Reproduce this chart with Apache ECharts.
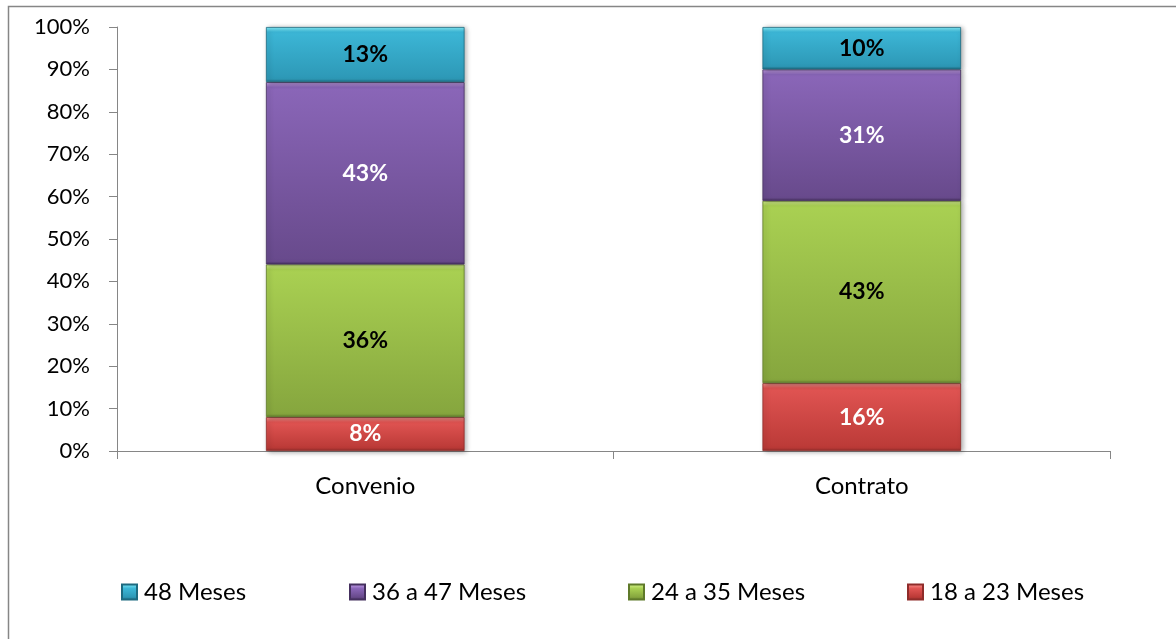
<!DOCTYPE html>
<html><head><meta charset="utf-8">
<script src="https://cdn.jsdelivr.net/npm/echarts@6/dist/echarts.min.js"></script>
<style>html,body{margin:0;padding:0;background:#fff}#c{width:1176px;height:639px}</style>
</head><body><div id="c"></div>
<script>
var categories = ['Convenio', 'Contrato'];
var seriesNames = ['18 a 23 Meses', '24 a 35 Meses', '36 a 47 Meses', '48 Meses'];
var v18a23 = [8, 16];
var v24a35 = [36, 43];
var v36a47 = [43, 31];
var v48 = [13, 10];
var yTicks = [0, 10, 20, 30, 40, 50, 60, 70, 80, 90, 100];

var font = 'Lato, "Open Sans", sans-serif';
var pal = [
  {hi:'#ff9a96', top:'#e05452', bot:'#bb3a37', edge:'#8f2c2a', label:'#ffffff'},
  {hi:'#dcf894', top:'#a9d052', bot:'#86a63e', edge:'#5f7a2a', label:'#000000'},
  {hi:'#cda8f2', top:'#8a66b8', bot:'#684a8c', edge:'#45305f', label:'#ffffff'},
  {hi:'#86f0fb', top:'#3cb6d6', bot:'#2d98b6', edge:'#1d6a80', label:'#000000'}
];
var pxPerPct = 4.24;
function grad(p, v){
  var f = Math.min(0.3, 5 / (v * pxPerPct));
  var g = Math.min(0.3, 3 / (v * pxPerPct));
  return {type:'linear', x:0, y:0, x2:0, y2:1, colorStops:[
    {offset:0, color:p.hi},{offset:f, color:p.top},{offset:1 - g, color:p.bot},{offset:1, color:p.edge}]};
}
var vals = [v18a23, v24a35, v36a47, v48];
var series = seriesNames.map(function(n, i){
  return {
    name:n, type:'bar', stack:'t', barWidth:'40%',
    data:vals[i].map(function(v){ return {value:v, itemStyle:{color:grad(pal[i], v)}}; }),
    itemStyle:{color:pal[i].top, borderColor:pal[i].edge, borderWidth:0.8,
      shadowColor:'rgba(0,0,0,0.35)', shadowBlur:5, shadowOffsetX:2, shadowOffsetY:1},
    label:{show:true, position:'inside', formatter:'{c}%', color:pal[i].label,
      fontFamily:font, fontWeight:'bold', fontSize:23}
  };
});
var legendX = [121, 349, 628, 907];
var legendOrder = [3, 2, 1, 0];
var legends = legendOrder.map(function(si, k){
  return {data:[{name:seriesNames[si], itemStyle:{color:grad(pal[si], 3.5)}}],
    left:legendX[k], top:580, padding:0, itemWidth:15, itemHeight:15,
    itemGap:0, icon:'rect', textStyle:{fontFamily:font, fontSize:24, color:'#000', padding:[0,0,0,2]},
    selectedMode:false};
});
var chart = echarts.init(document.getElementById('c'));
chart.setOption({
  animation:false,
  grid:{left:117, right:66, top:27, bottom:188},
  legend:legends,
  xAxis:{type:'category', data:categories,
    axisLine:{lineStyle:{color:'#868686', width:1}},
    axisTick:{show:true, length:8, lineStyle:{color:'#868686'}},
    axisLabel:{fontFamily:font, fontSize:24, color:'#000', margin:23}},
  yAxis:{type:'value', min:0, max:100, interval:10,
    axisLine:{show:true, lineStyle:{color:'#868686'}},
    axisTick:{show:true, length:8, lineStyle:{color:'#868686'}},
    splitLine:{show:false},
    axisLabel:{fontFamily:font, fontSize:22, color:'#000', margin:27,
      formatter:function(v){ return yTicks.indexOf(v) >= 0 ? v + '%' : ''; }}},
  graphic:[{type:'rect', shape:{x:8.5, y:6.5, width:1200, height:700},
    style:{fill:'none', stroke:'#868686', lineWidth:1.5}, silent:true}],
  series:series
});
</script></body></html>
